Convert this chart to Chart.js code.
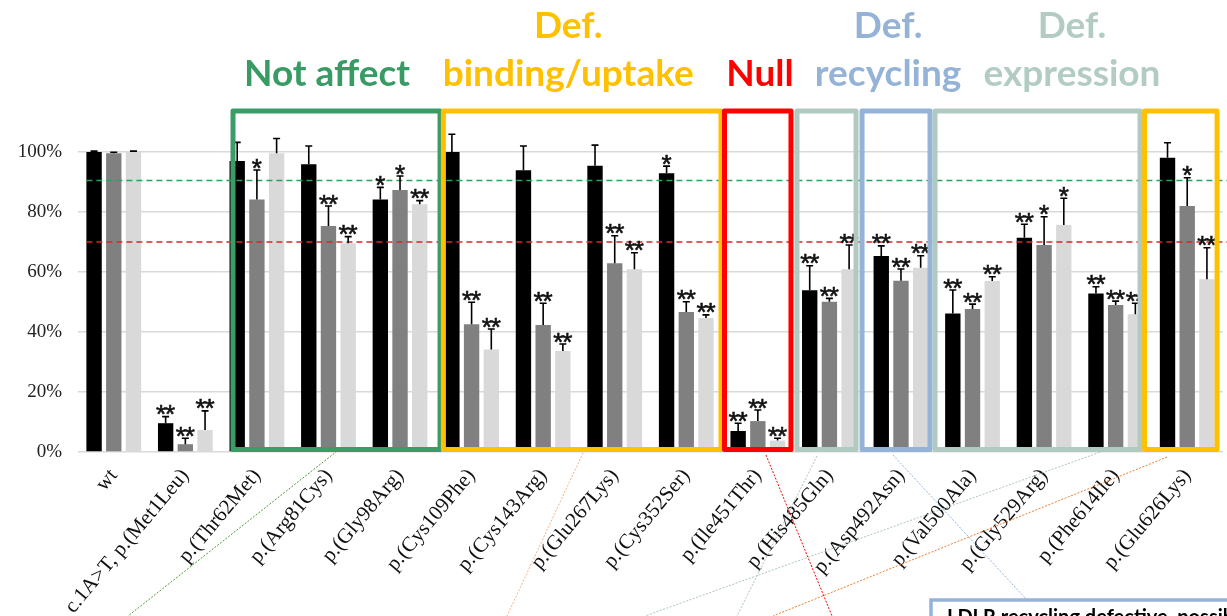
<!DOCTYPE html>
<html>
<head>
<meta charset="utf-8">
<script src="https://cdn.jsdelivr.net/npm/chart.js@4.4.1/dist/chart.umd.min.js"></script>
<style>
  html, body { margin: 0; padding: 0; background: #fff; overflow: hidden; }
  #wrap { position: relative; width: 1227px; height: 616px; }
</style>
</head>
<body>
<div id="wrap"><canvas id="chart" width="1227" height="616"></canvas></div>
<script>
// LDLR variant activity, relative to wild type (%)
const categories = ['wt', 'c.1A>T, p.(Met1Leu)', 'p.(Thr62Met)', 'p.(Arg81Cys)', 'p.(Gly98Arg)',
  'p.(Cys109Phe)', 'p.(Cys143Arg)', 'p.(Glu267Lys)', 'p.(Cys352Ser)', 'p.(Ile451Thr)',
  'p.(His485Gln)', 'p.(Asp492Asn)', 'p.(Val500Ala)', 'p.(Gly529Arg)', 'p.(Phe614Ile)', 'p.(Glu626Lys)'];

const blackValues = [100, 9.6, 97, 95.9, 84.2, 100, 93.9, 95.4, 92.9, 7, 53.9, 65.3, 46.2, 71.4, 52.8, 98.1];
const blackErrors = [0.3, 2.2, 6.2, 6.1, 4.0, 5.9, 8.1, 6.9, 2.4, 2.6, 8.2, 3.4, 7.8, 4.5, 2.3, 5.0];
const blackMarks  = ['', '**', '', '', '*', '', '', '', '*', '**', '**', '**', '**', '**', '**', ''];

const grayValues  = [99.6, 2.6, 84.2, 75.3, 87.3, 42.6, 42.3, 62.9, 46.7, 10.3, 50.1, 57.1, 47.7, 69, 49, 82];
const grayErrors  = [0.3, 2.0, 9.8, 6.7, 4.7, 7.3, 7.3, 9.2, 3.4, 3.7, 1.1, 3.9, 1.6, 9.4, 1.3, 9.4];
const grayMarks   = ['', '**', '*', '**', '*', '**', '**', '**', '**', '**', '**', '**', '**', '*', '**', '*'];

const lightValues = [100, 7.3, 99.6, 69.6, 82.6, 34.2, 33.7, 60.9, 44.7, 3.8, 60.9, 61.4, 57, 75.7, 45.9, 57.6];
const lightErrors = [0.3, 6.4, 4.9, 2.2, 1.2, 6.8, 2.3, 5.5, 1.0, 0.8, 8.1, 4.0, 1.4, 8.9, 3.7, 10.5];
const lightMarks  = ['', '**', '', '**', '**', '**', '**', '**', '**', '**', '**', '**', '**', '*', '**', '**'];

const yTicks = [0, 20, 40, 60, 80, 100];
const thresholdValues = [90.5, 70];
const thresholdColors = ['#2EA05A', '#D9262B'];

// Functional groups: spans are in category-index units
const groupFrames = [
  { from: 1.666, to: 4.559, color: '#3A9D68' },
  { from: 4.606, to: 8.485, color: '#FFC000' },
  { from: 8.534, to: 9.463, color: '#FF0000' },
  { from: 9.547, to: 10.372, color: '#B0CAC2' },
  { from: 10.456, to: 11.406, color: '#95B3D7' },
  { from: 11.476, to: 14.341, color: '#B0CAC2' },
  { from: 14.404, to: 15.417, color: '#FFC000' }
];
const groupTitles = [
  { at: 2.98, lines: ['Not affect'], color: '#389B64' },
  { at: 6.35, lines: ['Def.', 'binding/uptake'], color: '#FFC000' },
  { at: 9.03, lines: ['Null'], color: '#FF0000' },
  { at: 10.82, lines: ['Def.', 'recycling'], color: '#95B3D7' },
  { at: 13.39, lines: ['Def.', 'expression'], color: '#B2CCC4' }
];
// Connector lines leading out of the groups towards the notes below
const connectors = [
  { at: 3.119, v: 0.3, toX: 128, toY: 616, color: '#4F9A35' },
  { at: 6.557, v: -0.3, toX: 507, toY: 616, color: '#F4B183' },
  { at: 9.114, v: -1.0, toX: 832, toY: 616, color: '#FF0000' },
  { at: 9.827, v: -1.3, toX: 737, toY: 616, color: '#A9C4BB' },
  { at: 10.888, v: -1.0, toX: 1027, toY: 600, color: '#8DB4E2' },
  { at: 13.823, v: 0.3, toX: 645, toY: 616, color: '#A9C4BB' },
  { at: 14.718, v: -1.7, toX: 773, toY: 616, color: '#ED7D31' }
];
const noteText = 'LDLR recycling defective, possible';

function indexToPixel(scale, f) {
  const p0 = scale.getPixelForTick(0);
  const p1 = scale.getPixelForTick(1);
  return p0 + f * (p1 - p0);
}

function drawStars(ctx, mark, x, top) {
  ctx.font = '26px "Liberation Sans"';
  ctx.fillStyle = '#111';
  ctx.strokeStyle = '#111';
  ctx.lineWidth = 0.6;
  ctx.textAlign = 'center';
  ctx.textBaseline = 'alphabetic';
  const m = ctx.measureText('*');
  const base = top - 1.5 - m.actualBoundingBoxDescent;
  const step = 9;
  const start = x - (mark.length - 1) * step / 2;
  for (let k = 0; k < mark.length; k++) {
    ctx.fillText('*', start + k * step, base);
    ctx.strokeText('*', start + k * step, base);
  }
}

const overlayPlugin = {
  id: 'overlay',
  afterDatasetsDraw(chart) {
    const ctx = chart.ctx;
    const xs = chart.scales.x, ys = chart.scales.y;

    // threshold lines
    const firstBar = chart.getDatasetMeta(0).data[0];
    const startX = firstBar.x - firstBar.width / 2;
    ctx.save();
    ctx.lineWidth = 1.6;
    ctx.setLineDash([6, 4]);
    thresholdValues.forEach((v, i) => {
      const y = ys.getPixelForValue(v);
      ctx.strokeStyle = thresholdColors[i];
      ctx.beginPath();
      ctx.moveTo(startX, y);
      ctx.lineTo(chart.width, y);
      ctx.stroke();
    });
    ctx.restore();

    // error bars and significance marks
    ctx.save();
    chart.data.datasets.forEach((ds, di) => {
      const meta = chart.getDatasetMeta(di);
      meta.data.forEach((bar, i) => {
        const top = ys.getPixelForValue(ds.data[i] + ds.errors[i]);
        ctx.strokeStyle = '#000';
        ctx.lineWidth = 1.6;
        ctx.setLineDash([]);
        ctx.beginPath();
        ctx.moveTo(bar.x, bar.y);
        ctx.lineTo(bar.x, top);
        ctx.moveTo(bar.x - 3.5, top);
        ctx.lineTo(bar.x + 3.5, top);
        ctx.stroke();
        if (ds.marks[i]) drawStars(ctx, ds.marks[i], bar.x, top);
      });
    });
    ctx.restore();

    // group frames
    ctx.save();
    ctx.lineWidth = 5;
    ctx.lineJoin = 'round';
    const fTop = ys.getPixelForValue(113.7);
    const fBottom = ys.getPixelForValue(0.8);
    groupFrames.forEach(g => {
      const l = indexToPixel(xs, g.from), r = indexToPixel(xs, g.to);
      ctx.strokeStyle = g.color;
      ctx.strokeRect(l, fTop, r - l, fBottom - fTop);
    });
    ctx.restore();
  },
  afterDraw(chart) {
    const ctx = chart.ctx;
    const xs = chart.scales.x, ys = chart.scales.y;

    // group titles
    ctx.save();
    ctx.font = 'bold 37px Lato';
    ctx.textAlign = 'center';
    ctx.textBaseline = 'alphabetic';
    const line1 = ys.getPixelForValue(138);
    const line2 = ys.getPixelForValue(122);
    groupTitles.forEach(t => {
      const x = indexToPixel(xs, t.at);
      ctx.fillStyle = t.color;
      if (t.lines.length === 2) {
        ctx.fillText(t.lines[0], x, line1);
        ctx.fillText(t.lines[1], x, line2);
      } else {
        ctx.fillText(t.lines[0], x, line2);
      }
    });
    ctx.restore();

    // connectors
    ctx.save();
    ctx.lineWidth = 1;
    ctx.setLineDash([2, 1.5]);
    connectors.forEach(c => {
      ctx.strokeStyle = c.color;
      ctx.beginPath();
      ctx.moveTo(indexToPixel(xs, c.at), ys.getPixelForValue(c.v));
      ctx.lineTo(c.toX, c.toY);
      ctx.stroke();
    });
    ctx.restore();

    // note box
    ctx.save();
    ctx.fillStyle = '#fff';
    ctx.fillRect(931, 600, 320, 40);
    ctx.strokeStyle = '#95B3D7';
    ctx.lineWidth = 3.5;
    ctx.strokeRect(931, 600, 320, 40);
    ctx.fillStyle = '#000';
    ctx.font = 'bold 20px Lato';
    ctx.textAlign = 'left';
    ctx.textBaseline = 'alphabetic';
    ctx.fillText(noteText, 947, 624);
    ctx.restore();
  }
};

new Chart(document.getElementById('chart'), {
  type: 'bar',
  data: {
    labels: categories,
    datasets: [
      { label: 'Series 1', data: blackValues, errors: blackErrors, marks: blackMarks, backgroundColor: '#000000' },
      { label: 'Series 2', data: grayValues, errors: grayErrors, marks: grayMarks, backgroundColor: '#808080' },
      { label: 'Series 3', data: lightValues, errors: lightErrors, marks: lightMarks, backgroundColor: '#D9D9D9' }
    ]
  },
  options: {
    responsive: false,
    animation: false,
    layout: { padding: { top: 152, right: 4, left: 0, bottom: 0 } },
    datasets: { bar: { categoryPercentage: 0.826, barPercentage: 0.78 } },
    plugins: { legend: { display: false }, tooltip: { enabled: false } },
    scales: {
      x: {
        grid: { display: false, drawTicks: false },
        border: { display: false },
        ticks: {
          autoSkip: false, minRotation: 50, maxRotation: 50, padding: 12,
          color: '#111', font: { family: '"Liberation Serif"', size: 21 }
        },
        afterFit(s) { s.height = 164; }
      },
      y: {
        min: 0, max: 100,
        afterBuildTicks(s) { s.ticks = yTicks.map(v => ({ value: v })); },
        grid: { color: '#D9D9D9', lineWidth: 1.5, drawTicks: false },
        border: { display: false },
        ticks: {
          padding: 16, color: '#222',
          font: { family: '"Liberation Serif"', size: 19 },
          callback: v => v + '%'
        },
        afterFit(s) { s.width = 78; }
      }
    }
  },
  plugins: [overlayPlugin]
});
</script>
</body>
</html>
